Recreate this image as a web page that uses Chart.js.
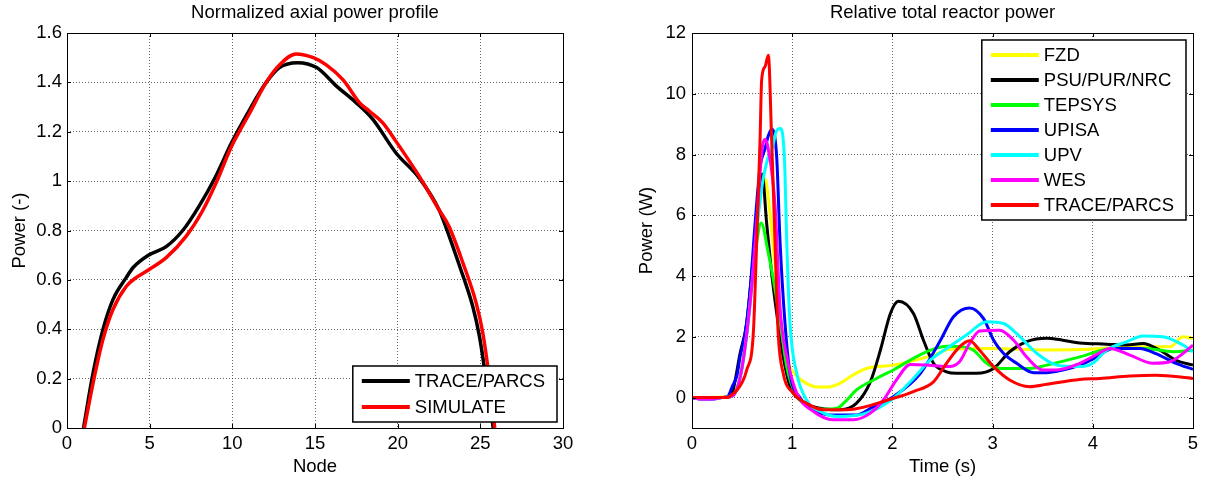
<!DOCTYPE html>
<html>
<head>
<meta charset="utf-8">
<script src="https://cdn.jsdelivr.net/npm/chart.js@4.4.0/dist/chart.umd.min.js"></script>
<style>
  html, body { margin: 0; padding: 0; background: #fff; }
  #wrap { position: relative; width: 1206px; height: 482px; }
  .pane { position: absolute; top: 0; height: 482px; }
  #leftPane { left: 0; width: 620px; }
  #rightPane { left: 620px; width: 586px; }
</style>
</head>
<body>
<div id="wrap">
  <div class="pane" id="leftPane"><canvas id="axialChart"></canvas></div>
  <div class="pane" id="rightPane"><canvas id="powerChart"></canvas></div>
</div>
<script>
// ---- left: normalized axial power profile ----
const nodeTicks = [0, 5, 10, 15, 20, 25, 30];
const axialTicks = [0, 0.2, 0.4, 0.6, 0.8, 1, 1.2, 1.4, 1.6];

const traceNode = [1, 1.57, 2.18, 2.78, 3.59, 4.0, 4.92, 6.0, 7.0, 8.0, 9.0, 9.95, 11.05, 12.05, 12.85, 13.95, 15.1, 16.3, 17.5, 18.5, 19.9, 21.3, 22.5, 22.9, 23.75, 24.55, 24.95, 25.35, 25.78];
const tracePower = [0, 0.22, 0.40, 0.52, 0.61, 0.65, 0.70, 0.735, 0.80, 0.90, 1.02, 1.155, 1.29, 1.40, 1.46, 1.48, 1.46, 1.385, 1.317, 1.25, 1.114, 1.013, 0.884, 0.817, 0.655, 0.49, 0.37, 0.196, 0];

const simNode = [1.05, 1.57, 2.18, 2.78, 3.59, 4.2, 4.92, 6.0, 7.2, 8.2, 9.0, 9.95, 11.05, 12.05, 12.85, 13.85, 14.9, 15.7, 16.7, 17.7, 18.3, 19.1, 19.9, 21.3, 22.5, 23.1, 23.95, 24.75, 25.15, 25.55, 25.87];
const simPower = [0, 0.18, 0.36, 0.48, 0.574, 0.61, 0.64, 0.69, 0.776, 0.88, 0.99, 1.14, 1.276, 1.40, 1.47, 1.515, 1.50, 1.47, 1.41, 1.317, 1.283, 1.236, 1.161, 1.02, 0.884, 0.817, 0.668, 0.506, 0.385, 0.196, 0];

// ---- right: relative total reactor power ----
const timeTicks = [0, 1, 2, 3, 4, 5];
const powerTicks = [0, 2, 4, 6, 8, 10, 12];

const fzdTime = [0, 0.3, 0.38, 0.45, 0.5, 0.55, 0.6, 0.65, 0.7, 0.73, 0.78, 0.83, 0.88, 0.93, 0.98, 1.05, 1.15, 1.25, 1.38, 1.51, 1.58, 1.74, 2.01, 2.41, 2.57, 2.97, 3.56, 3.87, 4.24, 4.53, 4.77, 4.9, 5.0];
const fzdPower = [0, 0.02, 0.08, 0.3, 1.0, 2.3, 4.0, 5.8, 7.0, 7.2, 6.0, 4.3, 2.7, 1.6, 1.0, 0.7, 0.45, 0.35, 0.36, 0.53, 0.69, 0.96, 1.07, 1.40, 1.59, 1.62, 1.57, 1.58, 1.65, 1.67, 1.67, 2.0, 1.95];

const psuTime = [0, 0.3, 0.38, 0.41, 0.48, 0.546, 0.596, 0.646, 0.70, 0.745, 0.795, 0.845, 0.91, 0.978, 1.05, 1.21, 1.48, 1.64, 1.78, 1.88, 1.98, 2.06, 2.21, 2.31, 2.41, 2.54, 2.64, 2.84, 3.01, 3.17, 3.34, 3.54, 3.7, 3.87, 4.14, 4.34, 4.5, 4.67, 4.83, 5.0];
const psuPower = [0, 0, 0.05, 0.25, 1.46, 2.45, 4.1, 5.74, 7.36, 5.74, 4.1, 2.78, 1.35, 0.36, 0.0, -0.3, -0.4, -0.19, 0.52, 1.56, 2.77, 3.17, 2.77, 1.89, 1.13, 0.85, 0.8, 0.8, 0.96, 1.51, 1.84, 1.95, 1.89, 1.8, 1.76, 1.73, 1.78, 1.56, 1.23, 1.07];

const tepsysTime = [0, 0.3, 0.4, 0.45, 0.5, 0.55, 0.6, 0.65, 0.69, 0.762, 0.83, 0.895, 0.945, 1.03, 1.18, 1.3, 1.445, 1.545, 1.64, 1.84, 2.01, 2.21, 2.38, 2.54, 2.71, 2.81, 2.94, 3.07, 3.37, 3.54, 3.87, 4.2, 4.53, 4.8, 5.0];
const tepsysPower = [0, 0, 0.05, 0.3, 1.0, 2.2, 3.8, 5.2, 5.75, 4.75, 3.54, 2.12, 1.02, 0.15, -0.3, -0.38, -0.35, -0.08, 0.25, 0.63, 0.91, 1.29, 1.56, 1.69, 1.67, 1.56, 1.13, 0.96, 0.96, 1.07, 1.34, 1.62, 1.62, 1.51, 1.56];

const upisaTime = [0, 0.1, 0.2, 0.3, 0.36, 0.4, 0.45, 0.48, 0.53, 0.58, 0.63, 0.68, 0.73, 0.76, 0.795, 0.845, 0.878, 0.928, 0.978, 1.08, 1.21, 1.38, 1.64, 1.81, 2.01, 2.28, 2.48, 2.61, 2.77, 2.91, 3.01, 3.11, 3.24, 3.41, 3.54, 3.7, 3.87, 4.04, 4.2, 4.47, 4.63, 4.83, 5.0];
const upisaPower = [0, -0.05, -0.05, 0, 0.05, 0.35, 0.75, 1.35, 2.12, 3.54, 5.74, 7.6, 8.2, 8.6, 8.83, 7.93, 5.18, 2.45, 0.8, -0.01, -0.4, -0.57, -0.57, -0.3, 0.03, 0.8, 1.89, 2.66, 2.95, 2.6, 1.89, 1.45, 1.13, 0.82, 0.82, 0.91, 1.07, 1.34, 1.62, 1.62, 1.45, 1.13, 0.93];

const upvTime = [0, 0.1, 0.2, 0.3, 0.4, 0.45, 0.5, 0.55, 0.6, 0.65, 0.7, 0.75, 0.8, 0.84, 0.88, 0.91, 0.928, 0.945, 0.978, 1.045, 1.14, 1.31, 1.445, 1.74, 2.01, 2.21, 2.38, 2.57, 2.74, 2.94, 3.11, 3.24, 3.44, 3.64, 3.9, 4.0, 4.14, 4.34, 4.5, 4.7, 4.9, 5.0];
const upvPower = [0, -0.05, -0.05, 0, 0.05, 0.3, 1.0, 2.2, 3.8, 5.6, 7.0, 7.8, 8.2, 8.75, 8.86, 8.5, 7.39, 5.18, 2.45, 0.8, -0.06, -0.5, -0.62, -0.51, -0.02, 0.63, 1.24, 1.68, 2.06, 2.5, 2.44, 2.11, 1.46, 1.07, 1.02, 1.13, 1.57, 1.84, 2.03, 2.0, 1.73, 1.51];

const wesTime = [0, 0.1, 0.2, 0.3, 0.4, 0.45, 0.5, 0.55, 0.6, 0.65, 0.7, 0.73, 0.76, 0.83, 0.878, 0.945, 1.045, 1.21, 1.41, 1.61, 1.78, 1.91, 2.04, 2.18, 2.34, 2.54, 2.67, 2.77, 2.87, 3.07, 3.21, 3.34, 3.5, 3.64, 3.87, 4.04, 4.17, 4.37, 4.6, 4.77, 4.9, 5.0];
const wesPower = [0, -0.05, -0.05, 0, 0.05, 0.3, 1.0, 2.2, 3.8, 6.0, 8.2, 8.5, 8.2, 6.28, 2.99, 1.35, 0.15, -0.45, -0.73, -0.73, -0.51, -0.08, 0.58, 1.09, 1.07, 1.02, 1.18, 1.78, 2.19, 2.22, 1.89, 1.34, 0.91, 0.91, 1.13, 1.42, 1.62, 1.4, 1.13, 1.18, 1.45, 1.73];

const parcsTime = [0, 0.35, 0.38, 0.45, 0.5, 0.545, 0.612, 0.646, 0.679, 0.695, 0.73, 0.762, 0.795, 0.828, 0.86, 0.91, 1.01, 1.14, 1.31, 1.545, 2.01, 2.21, 2.41, 2.54, 2.67, 2.77, 2.87, 3.01, 3.17, 3.37, 3.54, 3.87, 4.07, 4.37, 4.63, 5.0];
const parcsPower = [0, 0, 0.05, 0.25, 0.5, 0.9, 2.12, 5.18, 8.47, 10.45, 10.9, 11.27, 8.47, 5.18, 2.12, 0.8, 0.15, -0.18, -0.4, -0.4, -0.02, 0.2, 0.52, 1.13, 1.67, 1.87, 1.56, 1.02, 0.58, 0.36, 0.44, 0.6, 0.63, 0.71, 0.74, 0.63];

const FONT = '"Liberation Sans", Arial, Helvetica, sans-serif';
const FS = 18.5;
const gridColor = 'rgba(0,0,0,0.6)';

Chart.defaults.font.family = FONT;
Chart.defaults.font.size = FS;
Chart.defaults.color = '#000';

function pts(xs, ys) {
  return xs.map((x, i) => ({ x: x, y: ys[i] }));
}

// box around the plot, inward ticks on all four sides, and a boxed legend
const matlabFrame = {
  id: 'matlabFrame',
  afterDatasetsDraw(chart, args, opts) {
    const { ctx, chartArea: a, scales } = chart;
    const x = scales.x, y = scales.y;
    ctx.save();
    ctx.strokeStyle = '#000';
    ctx.lineWidth = 1;
    ctx.beginPath();
    x.ticks.forEach(t => {
      const px = Math.round(x.getPixelForValue(t.value)) + 0.5;
      ctx.moveTo(px, a.bottom); ctx.lineTo(px, a.bottom - 4);
      ctx.moveTo(px, a.top); ctx.lineTo(px, a.top + 4);
    });
    y.ticks.forEach(t => {
      const py = Math.round(y.getPixelForValue(t.value)) + 0.5;
      ctx.moveTo(a.left, py); ctx.lineTo(a.left + 4, py);
      ctx.moveTo(a.right, py); ctx.lineTo(a.right - 4, py);
    });
    ctx.stroke();
    ctx.strokeRect(Math.round(a.left) + 0.5, Math.round(a.top) + 0.5, Math.round(a.width), Math.round(a.height));

    const sets = chart.data.datasets;
    ctx.font = FS + 'px ' + FONT;
    const textW = Math.max(...sets.map(d => ctx.measureText(d.label).width));
    const w = 62 + textW + 12;
    const h = 30 + (sets.length - 1) * opts.rowH;
    const left = a.right - opts.margin - w;
    const top = opts.corner === 'top' ? a.top + opts.margin : a.bottom - opts.margin - h;
    ctx.fillStyle = '#fff';
    ctx.fillRect(left, top, w, h);
    ctx.lineWidth = 1.5;
    ctx.strokeRect(left, top, w, h);
    sets.forEach((d, i) => {
      const cy = top + 15 + i * opts.rowH;
      ctx.beginPath();
      ctx.strokeStyle = d.borderColor;
      ctx.lineWidth = 4;
      ctx.moveTo(left + 9, cy);
      ctx.lineTo(left + 57, cy);
      ctx.stroke();
      ctx.fillStyle = '#000';
      ctx.textBaseline = 'middle';
      ctx.textAlign = 'left';
      ctx.fillText(d.label, left + 62, cy + 1);
    });
    ctx.restore();
  }
};

function axisScales(o) {
  return {
    x: {
      type: 'linear', min: o.xMin, max: o.xMax,
      afterBuildTicks: s => { s.ticks = o.xTicks.map(v => ({ value: v })); },
      afterFit: s => { s.height = 54; },
      grid: { color: gridColor, lineWidth: 1, drawTicks: false },
      border: { display: false, dash: [1, 2] },
      ticks: { padding: 5, maxRotation: 0, autoSkip: false },
      title: { display: true, text: o.xTitle, padding: { top: 0, bottom: 3.5 } }
    },
    y: {
      type: 'linear', min: o.yMin, max: o.yMax,
      afterBuildTicks: s => { s.ticks = o.yTicks.map(v => ({ value: v })); },
      afterFit: s => { s.width = o.yWidth; },
      grid: { color: gridColor, lineWidth: 1, drawTicks: false },
      border: { display: false, dash: [1, 2] },
      ticks: { padding: o.yPad, autoSkip: false, callback: v => String(Number(v.toFixed(1))) },
      title: { display: true, text: o.yTitle, padding: { top: o.yTitlePad, bottom: 0 } }
    }
  };
}

function buildAxialChart() {
  const ctx = document.getElementById('axialChart').getContext('2d');
  new Chart(ctx, {
    type: 'line',
    data: {
      datasets: [
        { label: 'TRACE/PARCS', data: pts(traceNode, tracePower), borderColor: '#000000', order: 1 },
        { label: 'SIMULATE', data: pts(simNode, simPower), borderColor: '#ff0000', order: 0 }
      ]
    },
    options: {
      responsive: true,
      maintainAspectRatio: false,
      animation: false,
      events: [],
      devicePixelRatio: 1,
      elements: { line: { borderWidth: 3.5, cubicInterpolationMode: 'monotone', fill: false }, point: { radius: 0 } },
      layout: { padding: { left: 0, right: 57, top: 0, bottom: 0 } },
      plugins: {
        legend: { display: false },
        tooltip: { enabled: false },
        title: {
          display: true, text: 'Normalized axial power profile', fullSize: false,
          font: { size: FS, weight: 'normal' }, padding: { top: 2, bottom: 8.8 }
        },
        matlabFrame: { corner: 'bottom', margin: 6, rowH: 26 }
      },
      scales: axisScales({
        xMin: 0, xMax: 30, xTicks: nodeTicks, xTitle: 'Node',
        yMin: 0, yMax: 1.6, yTicks: axialTicks, yTitle: 'Power (-)',
        yWidth: 67, yPad: 5, yTitlePad: 8.7
      })
    },
    plugins: [matlabFrame]
  });
}

function buildPowerChart() {
  const ctx = document.getElementById('powerChart').getContext('2d');
  const series = [
    ['FZD', fzdTime, fzdPower, '#ffff00'],
    ['PSU/PUR/NRC', psuTime, psuPower, '#000000'],
    ['TEPSYS', tepsysTime, tepsysPower, '#00ff00'],
    ['UPISA', upisaTime, upisaPower, '#0000ff'],
    ['UPV', upvTime, upvPower, '#00ffff'],
    ['WES', wesTime, wesPower, '#ff00ff'],
    ['TRACE/PARCS', parcsTime, parcsPower, '#ff0000']
  ];
  new Chart(ctx, {
    type: 'line',
    data: {
      datasets: series.map((s, i) => ({
        label: s[0], data: pts(s[1], s[2]), borderColor: s[3], order: series.length - 1 - i
      }))
    },
    options: {
      responsive: true,
      maintainAspectRatio: false,
      animation: false,
      events: [],
      devicePixelRatio: 1,
      elements: { line: { borderWidth: 3, cubicInterpolationMode: 'monotone', fill: false }, point: { radius: 0 } },
      layout: { padding: { left: 0, right: 13, top: 0, bottom: 0 } },
      plugins: {
        legend: { display: false },
        tooltip: { enabled: false },
        title: {
          display: true, text: 'Relative total reactor power', fullSize: false,
          font: { size: FS, weight: 'normal' }, padding: { top: 2, bottom: 8.8 }
        },
        matlabFrame: { corner: 'top', margin: 7, rowH: 25 }
      },
      scales: axisScales({
        xMin: 0, xMax: 5, xTicks: timeTicks, xTitle: 'Time (s)',
        yMin: -1, yMax: 12, yTicks: powerTicks, yTitle: 'Power (W)',
        yWidth: 72, yPad: 6, yTitlePad: 15.7
      })
    },
    plugins: [matlabFrame]
  });
}

buildAxialChart();
buildPowerChart();
</script>
</body>
</html>
